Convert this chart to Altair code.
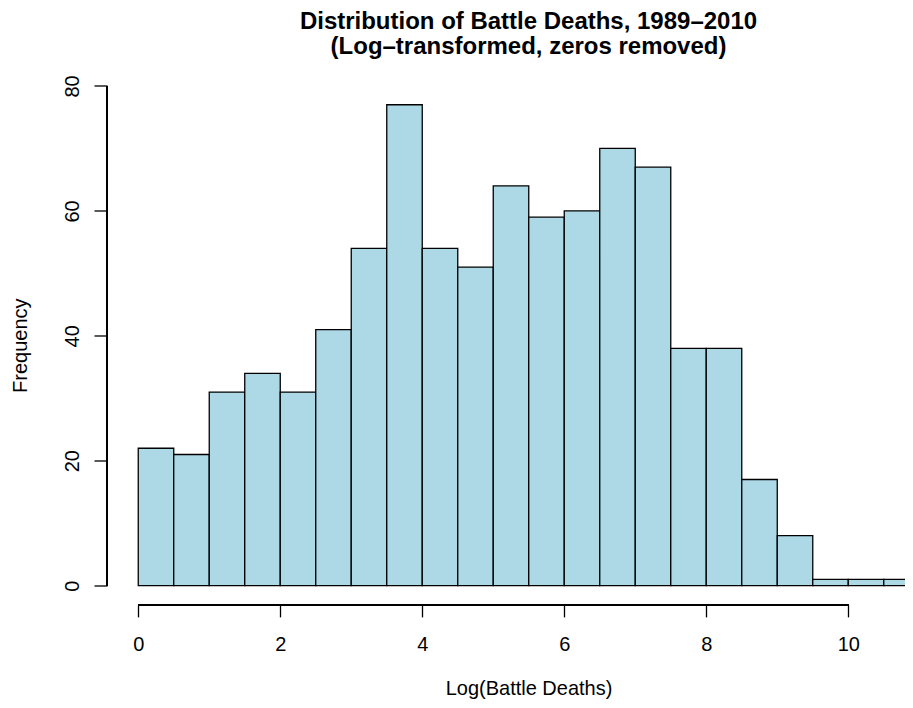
import altair as alt
import pandas as pd

breaks = [0.0, 0.5, 1.0, 1.5, 2.0, 2.5, 3.0, 3.5, 4.0, 4.5, 5.0, 5.5,
          6.0, 6.5, 7.0, 7.5, 8.0, 8.5, 9.0, 9.5, 10.0, 10.5, 11.0]
counts = [22, 21, 31, 34, 31, 41, 54, 77, 54, 51, 64, 59, 60, 70, 67,
          38, 38, 17, 8, 1, 1, 1]
x_ticks = [0, 2, 4, 6, 8, 10]
y_ticks = [0, 20, 40, 60, 80]

title_lines = ["Distribution of Battle Deaths, 1989\u20132010",
               "(Log\u2013transformed, zeros removed)"]
x_title = "Log(Battle Deaths)"
y_title = "Frequency"

df = pd.DataFrame({"start": breaks[:-1], "end": breaks[1:], "count": counts})

FONT = "Liberation Sans"
W, H = 798, 519.4
XDOM = [-0.44, 10.799]
YDOM = [-3.08, 80.08]

xscale = alt.Scale(domain=XDOM, nice=False, zero=False)
yscale = alt.Scale(domain=YDOM, nice=False, zero=False)

bars = alt.Chart(df).mark_rect(
    fill="#ADD8E6", stroke="black", strokeWidth=1.3, clip=True
).encode(
    x=alt.X("start:Q", scale=xscale, axis=alt.Axis(
        values=x_ticks, format="d", domain=False, grid=False, tickSize=12, tickWidth=1.3,
        tickColor="black", labelFontSize=20, labelFont=FONT, labelColor="black",
        labelPadding=34, labelBaseline="alphabetic", labelFlush=False,
        title=x_title, titleFont=FONT, titleFontSize=20, titleFontWeight="normal",
        titleColor="black", titleBaseline="alphabetic", titleAlign="center",
        titleX=421.5, titleY=90, titleAnchor="start")),
    x2="end:Q",
    y=alt.Y("count:Q", scale=yscale, axis=alt.Axis(
        values=y_ticks, format="d", domain=False, grid=False, tickSize=13, tickWidth=1.3,
        tickColor="black", labelFontSize=20, labelFont=FONT, labelColor="black",
        labelAngle=270, labelAlign="center", labelBaseline="alphabetic",
        labelPadding=16, labelFlush=False,
        title=y_title, titleFont=FONT, titleFontSize=20, titleFontWeight="normal",
        titleColor="black", titleAngle=270, titleBaseline="alphabetic",
        titleAlign="center", titleX=-81, titleY=259.7, titleAnchor="start")),
    y2=alt.Y2(datum=0),
)

xline = alt.Chart(df).mark_rule(color="black", strokeWidth=1.3).encode(
    x=alt.datum(x_ticks[0]), x2=alt.datum(x_ticks[-1]), y=alt.value(H + 0.3)
)
yline = alt.Chart(df).mark_rule(color="black", strokeWidth=1.3).encode(
    x=alt.value(0), y=alt.datum(y_ticks[0]), y2=alt.datum(y_ticks[-1])
)

chart = alt.layer(bars, xline, yline).properties(
    width=W, height=H,
    background="white",
    title=alt.TitleParams(text=title_lines, font=FONT, fontSize=24,
                          fontWeight="bold", color="black", lineHeight=25,
                          anchor="middle", baseline="alphabetic", offset=-3, dx=22.5),
    autosize=alt.AutoSizeParams(type="none"),
    padding={"left": 99, "top": 77.5, "right": 0, "bottom": 95},
).configure_view(strokeWidth=0, stroke="white")

chart.save("out.html", embed_options={"renderer": "svg", "actions": False})
